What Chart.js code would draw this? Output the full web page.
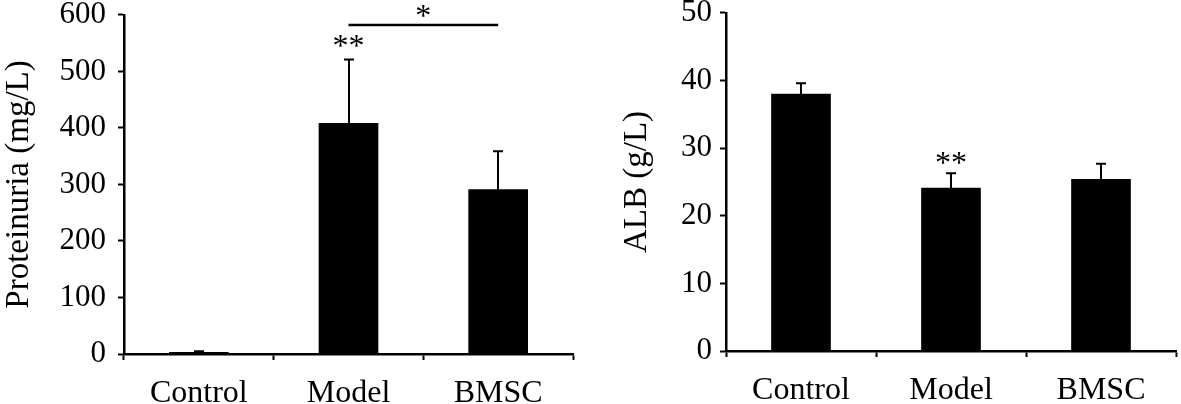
<!DOCTYPE html>
<html>
<head>
<meta charset="utf-8">
<script src="https://cdn.jsdelivr.net/npm/chart.js@4.4.1/dist/chart.umd.min.js"></script>
<style>
    html, body { margin: 0; padding: 0; background: #fff; overflow: hidden; }
    #wrap { position: relative; width: 1181px; height: 404px; overflow: hidden; }
    .box { position: absolute; }
    #left { left: 0; top: -11px; width: 590px; height: 415px; }
    #right { left: 590px; top: -9px; width: 591px; height: 413px; }
</style>
</head>
<body>
<div id="wrap">
    <div class="box" id="left"><canvas id="protChart"></canvas></div>
    <div class="box" id="right"><canvas id="albChart"></canvas></div>
</div>
<script>
// Дані
const groups = ["Control", "Model", "BMSC"];

const proteinuria = [3, 408, 291];
const proteinuriaErr = [2, 113, 68];
const proteinuriaTicks = [0, 100, 200, 300, 400, 500, 600];

const alb = [38.0, 24.1, 25.4];
const albErr = [1.6, 2.2, 2.3];
const albTicks = [0, 10, 20, 30, 40, 50];

// позначки значущості
const protStars = ["", "**", ""];
const protStarAt = [0, 527, 0];
const protBracket = { from: 1, to: 2, at: 582, label: "*" };

const albStars = ["", "**", ""];
const albStarAt = [0, 26.4, 0];

const FONT = "'Liberation Serif', 'Times New Roman', serif";

// Планки похибок та зірочки
const marksPlugin = {
    id: "marks",
    afterDatasetsDraw(chart, args, opts) {
        const { ctx, scales: { x, y } } = chart;
        const values = chart.data.datasets[0].data;
        ctx.save();
        ctx.strokeStyle = "#000";
        ctx.fillStyle = "#000";
        ctx.lineWidth = 2;

        opts.err.forEach((e, i) => {
            const cx = Math.round(x.getPixelForValue(i));
            const base = y.getPixelForValue(values[i]);
            const top = y.getPixelForValue(values[i] + e);
            ctx.beginPath();
            ctx.moveTo(cx, base);
            ctx.lineTo(cx, top);
            ctx.moveTo(cx - 5, top);
            ctx.lineTo(cx + 5, top);
            ctx.stroke();
        });

        ctx.font = "32px " + FONT;
        ctx.textAlign = "center";
        ctx.textBaseline = "alphabetic";
        opts.stars.forEach((s, i) => {
            if (!s) return;
            ctx.fillText(s, x.getPixelForValue(i), y.getPixelForValue(opts.starAt[i]));
        });

        const br = opts.bracket;
        if (br) {
            const x1 = x.getPixelForValue(br.from);
            const x2 = x.getPixelForValue(br.to);
            const yy = y.getPixelForValue(br.at);
            ctx.lineWidth = 2.5;
            ctx.beginPath();
            ctx.moveTo(x1, yy);
            ctx.lineTo(x2, yy);
            ctx.stroke();
            ctx.fillText(br.label, (x1 + x2) / 2, yy + 1);
        }
        ctx.restore();
    }
};

function makeChart(canvasId, opt) {
    const ctx = document.getElementById(canvasId).getContext("2d");
    return new Chart(ctx, {
        type: "bar",
        data: {
            labels: groups,
            datasets: [{
                data: opt.values,
                backgroundColor: "#000",
                borderWidth: 0,
                barThickness: 59
            }]
        },
        options: {
            responsive: true,
            maintainAspectRatio: false,
            animation: false,
            layout: { padding: { top: 0, right: opt.padRight, left: 0, bottom: 0 } },
            plugins: {
                legend: { display: false },
                tooltip: { enabled: false },
                marks: {
                    err: opt.err,
                    stars: opt.stars,
                    starAt: opt.starAt,
                    bracket: opt.bracket
                }
            },
            scales: {
                x: {
                    grid: {
                        display: true,
                        drawOnChartArea: false,
                        drawTicks: true,
                        tickLength: 6,
                        tickWidth: 2,
                        tickColor: "#000",
                        offset: true
                    },
                    border: { display: true, color: "#000", width: 2.5 },
                    ticks: {
                        color: "#000",
                        font: { family: FONT, size: 32 },
                        padding: 14
                    },
                    afterFit(scale) { scale.height = opt.xHeight; }
                },
                y: {
                    min: opt.ticks[0],
                    max: opt.ticks[opt.ticks.length - 1],
                    afterBuildTicks(scale) {
                        scale.ticks = opt.ticks.map(v => ({ value: v }));
                    },
                    grid: {
                        display: true,
                        drawOnChartArea: false,
                        drawTicks: true,
                        tickLength: 6,
                        tickWidth: 2,
                        tickColor: "#000"
                    },
                    border: { display: true, color: "#000", width: 2.5 },
                    ticks: {
                        color: "#000",
                        font: { family: FONT, size: 31, lineHeight: 0.9 },
                        padding: opt.tickPad
                    },
                    title: {
                        display: true,
                        text: opt.title,
                        color: "#000",
                        font: { family: FONT, size: 33 },
                        padding: { top: opt.titlePad, bottom: 0 }
                    },
                    afterFit(scale) { scale.width = opt.yWidth; }
                }
            }
        },
        plugins: [marksPlugin]
    });
}

function init() {
    makeChart("protChart", {
        values: proteinuria,
        err: proteinuriaErr,
        ticks: proteinuriaTicks,
        stars: protStars,
        starAt: protStarAt,
        bracket: protBracket,
        title: "Proteinuria (mg/L)",
        titlePad: 0,
        tickPad: 12,
        yWidth: 124,
        xHeight: 50,
        padRight: 17
    });

    makeChart("albChart", {
        values: alb,
        err: albErr,
        ticks: albTicks,
        stars: albStars,
        starAt: albStarAt,
        bracket: null,
        title: "ALB (g/L)",
        titlePad: 28,
        tickPad: 8,
        yWidth: 136,
        xHeight: 53,
        padRight: 5
    });
}

window.addEventListener("DOMContentLoaded", init);
</script>
</body>
</html>
